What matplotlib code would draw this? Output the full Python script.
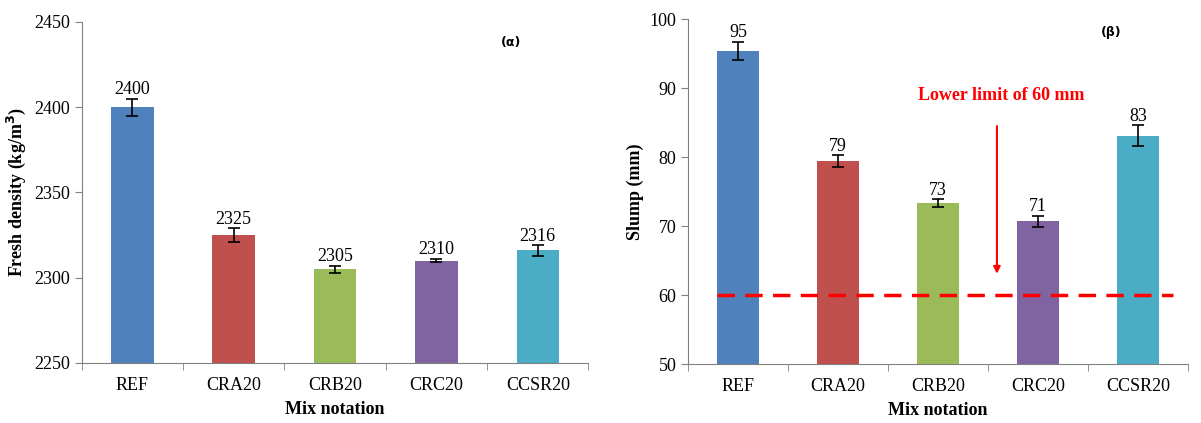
import matplotlib
matplotlib.use("Agg")
import matplotlib.pyplot as plt
import numpy as np

mixes = ["REF", "CRA20", "CRB20", "CRC20", "CCSR20"]
colors = ["#4F81BD", "#C0504D", "#9BBB59", "#8064A2", "#4BACC6"]

density = [2400, 2325, 2305, 2310, 2316]
density_err = [5, 4, 2, 1, 3]

slump = [95.4, 79.4, 73.3, 70.7, 83.1]
slump_err = [1.3, 0.9, 0.6, 0.8, 1.5]
slump_labels = ["95", "79", "73", "71", "83"]

lower_limit = 60

plt.rcParams["font.family"] = ["Liberation Serif", "DejaVu Serif"]

fig = plt.figure(figsize=(12.01, 4.23), dpi=100)
ax1 = fig.add_axes([0.068, 0.142, 0.422, 0.806])
ax2 = fig.add_axes([0.573, 0.139, 0.416, 0.816])

x = np.arange(len(mixes))


def style_axis(ax, ylim, yticks):
    ax.set_xlim(-0.5, len(mixes) - 0.5)
    ax.set_ylim(*ylim)
    ax.set_yticks(yticks)
    ax.set_xticks(x)
    ax.set_xticklabels(mixes, fontsize=13)
    ax.set_xticks(np.arange(-0.5, len(mixes)), minor=True)
    ax.tick_params(axis="x", which="major", length=0, pad=10)
    ax.tick_params(axis="x", which="minor", length=5, color="#808080")
    ax.tick_params(axis="y", labelsize=13, length=5, color="#808080")
    for s in ["top", "right"]:
        ax.spines[s].set_visible(False)
    for s in ["left", "bottom"]:
        ax.spines[s].set_color("#808080")
    ax.set_xlabel("Mix notation", fontsize=13, fontweight="bold", labelpad=5)


# (α) fresh density
ax1.bar(x, density, width=0.42, color=colors)
ax1.errorbar(x, density, yerr=density_err, fmt="none", ecolor="black",
             elinewidth=1.2, capsize=4, capthick=1.2)
for xi, v, e in zip(x, density, density_err):
    ax1.text(xi, v + e + 0.3, str(v), ha="center", va="bottom", fontsize=13)
style_axis(ax1, (2250, 2450), np.arange(2250, 2451, 50))
ax1.set_ylabel("Fresh density (kg/m$^\\mathbf{3}$)", fontsize=13, fontweight="bold")
ax1.text(3.74, 2438, "(α)", fontsize=9, fontweight="bold", family="DejaVu Sans",
         ha="center", va="center")

# (β) slump
ax2.bar(x, slump, width=0.42, color=colors)
ax2.errorbar(x, slump, yerr=slump_err, fmt="none", ecolor="black",
             elinewidth=1.2, capsize=4, capthick=1.2)
for xi, v, e, lab in zip(x, slump, slump_err, slump_labels):
    ax2.text(xi, v + e + 0.05, lab, ha="center", va="bottom", fontsize=13)
style_axis(ax2, (50, 100), np.arange(50, 101, 10))
ax2.set_ylabel("Slump (mm)", fontsize=13, fontweight="bold")
ax2.hlines(lower_limit, -0.21, 4.35, colors="red", linestyles=(0, (5, 3)), linewidth=2.5)
ax2.annotate("", xy=(2.59, 62.7), xytext=(2.59, 84.9),
             arrowprops=dict(arrowstyle="-|>", color="red", lw=1.5, mutation_scale=10))
ax2.text(2.63, 88.9, "Lower limit of 60 mm", color="red", fontsize=13,
         fontweight="bold", ha="center", va="center")
ax2.text(3.73, 98, "(β)", fontsize=9, fontweight="bold", family="DejaVu Sans",
         ha="center", va="center")

fig.savefig("out.png", dpi=100)
